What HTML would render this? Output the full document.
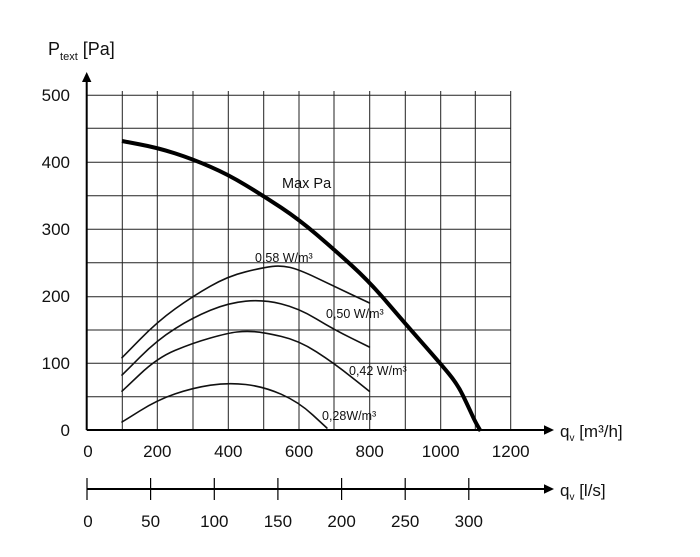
<!DOCTYPE html>
<html><head><meta charset="utf-8"><style>
html,body{margin:0;padding:0;background:#fff;}
svg{display:block;font-family:"Liberation Sans","DejaVu Sans",sans-serif;}
</style></head><body>
<svg width="700" height="557" viewBox="0 0 700 557" xmlns="http://www.w3.org/2000/svg">
<rect width="700" height="557" fill="#fff"/>
<g stroke="#222" stroke-width="1">
<line x1="122.3" y1="91" x2="122.3" y2="430"/><line x1="157.3" y1="91" x2="157.3" y2="430"/>
<line x1="193" y1="91" x2="193" y2="430"/><line x1="228.3" y1="91" x2="228.3" y2="430"/>
<line x1="263.7" y1="91" x2="263.7" y2="430"/><line x1="299" y1="91" x2="299" y2="430"/>
<line x1="334" y1="91" x2="334" y2="430"/><line x1="369.7" y1="91" x2="369.7" y2="430"/>
<line x1="405.3" y1="91" x2="405.3" y2="430"/><line x1="440.7" y1="91" x2="440.7" y2="430"/>
<line x1="475.3" y1="91" x2="475.3" y2="430"/><line x1="510.7" y1="91" x2="510.7" y2="430"/>
<line x1="87" y1="95.3" x2="510.7" y2="95.3"/><line x1="87" y1="128.3" x2="510.7" y2="128.3"/>
<line x1="87" y1="162.3" x2="510.7" y2="162.3"/><line x1="87" y1="195.7" x2="510.7" y2="195.7"/>
<line x1="87" y1="229.3" x2="510.7" y2="229.3"/><line x1="87" y1="262.7" x2="510.7" y2="262.7"/>
<line x1="87" y1="296.7" x2="510.7" y2="296.7"/><line x1="87" y1="330" x2="510.7" y2="330"/>
<line x1="87" y1="363.3" x2="510.7" y2="363.3"/><line x1="87" y1="396.7" x2="510.7" y2="396.7"/>
</g>
<g stroke="#000" stroke-width="2" fill="none">
<line x1="86.7" y1="430" x2="86.7" y2="80"/><line x1="86.7" y1="430" x2="546" y2="430"/>
<line x1="87" y1="489" x2="546" y2="489"/>
</g>
<g fill="#000">
<polygon points="86.7,72 82,82 91.4,82"/>
<polygon points="554,430 544,425.3 544,434.7"/>
<polygon points="554,489 544,484.3 544,493.7"/>
</g>
<g stroke="#000" stroke-width="1.2">
<line x1="87" y1="478" x2="87" y2="500"/><line x1="150.6" y1="478" x2="150.6" y2="500"/>
<line x1="214.3" y1="478" x2="214.3" y2="500"/><line x1="277.9" y1="478" x2="277.9" y2="500"/>
<line x1="341.6" y1="478" x2="341.6" y2="500"/><line x1="405.2" y1="478" x2="405.2" y2="500"/>
<line x1="468.8" y1="478" x2="468.8" y2="500"/>
</g>
<g fill="none" stroke="#111" stroke-width="1.6" stroke-linejoin="round" stroke-linecap="round">
<path d="M122,357.7 L139.7,339.7 Q157.4,321.6 175.1,308.9 Q192.7,296.2 210.4,286.2 Q228,276.1 245.7,271.8 Q263.4,267.4 272.2,266.4 Q281,265.4 289.9,267.4 Q298.7,269.4 316.4,277.8 Q334,286.2 351.7,294.6 L369.3,302.9"/>
<path d="M122,375.1 L139.7,357.4 Q157.4,339.7 175.1,328.7 Q192.7,317.6 210.4,310.3 Q228,302.9 245.7,301.2 Q263.4,299.5 281.1,303.9 Q298.7,308.2 316.4,318.9 Q334,329.6 351.7,338.3 L369.3,347"/>
<path d="M122,391.2 L139.7,374.5 Q157.4,357.7 175.1,350.4 Q192.7,343 210.4,338 Q228,333 236.9,332 Q245.7,331 254.6,331.7 Q263.4,332.3 281.1,336.4 Q298.7,340.4 316.4,351.8 Q334,363.1 351.7,377.2 L369.3,391.2"/>
<path d="M122,422 L139.7,411 Q157.4,399.9 175.1,393.9 Q192.7,387.9 210.4,385.2 Q228,382.5 245.7,384.5 Q263.4,386.5 281.1,394.2 Q298.7,401.9 312.8,415 L326.9,428"/>
</g>
<path fill="none" stroke="#000" stroke-width="4" stroke-linejoin="round" d="M122,141 L139.7,144.4 Q157.4,147.7 175.1,153.4 Q192.7,159.1 210.4,166.8 Q228,174.4 245.7,185.2 Q263.4,195.9 281.1,207.6 Q298.7,219.3 316.4,234.4 Q334,249.4 351.7,265.5 Q369.3,281.5 387,302.3 Q404.7,323 422.4,343.1 Q440,363.1 448.9,373.8 Q457.7,384.5 463,395.6 Q468.3,406.6 471.8,414.3 Q475.3,422 478,426.5 L480.6,431"/>
<g fill="#111" font-size="17">
<text x="70" y="101" text-anchor="end">500</text>
<text x="70" y="168" text-anchor="end">400</text>
<text x="70" y="235" text-anchor="end">300</text>
<text x="70" y="302" text-anchor="end">200</text>
<text x="70" y="369" text-anchor="end">100</text>
<text x="70" y="436" text-anchor="end">0</text>
<g text-anchor="middle">
<text x="88" y="457">0</text><text x="157.3" y="457">200</text><text x="228.3" y="457">400</text>
<text x="299" y="457">600</text><text x="369.7" y="457">800</text><text x="440.7" y="457">1000</text>
<text x="510.7" y="457">1200</text>
<text x="88" y="527">0</text><text x="150.6" y="527">50</text><text x="214.3" y="527">100</text>
<text x="277.9" y="527">150</text><text x="341.6" y="527">200</text><text x="405.2" y="527">250</text>
<text x="468.8" y="527">300</text>
</g>
<text x="560" y="437">q<tspan font-size="10" dy="4">v</tspan><tspan dy="-4"> [m³/h]</tspan></text>
<text x="560" y="496">q<tspan font-size="10" dy="4">v</tspan><tspan dy="-4"> [l/s]</tspan></text>
<text x="48" y="55" font-size="18">P<tspan font-size="11" dy="5">text</tspan><tspan dy="-5"> [Pa]</tspan></text>
</g>
<g fill="#111" font-size="12.5">
<text x="282" y="188" font-size="14.5">Max Pa</text>
<text x="255" y="262">0,58 W/m³</text>
<text x="326" y="318">0,50 W/m³</text>
<text x="349" y="375">0,42 W/m³</text>
<text x="322" y="420">0,28W/m³</text>
</g>
</svg>
</body></html>
